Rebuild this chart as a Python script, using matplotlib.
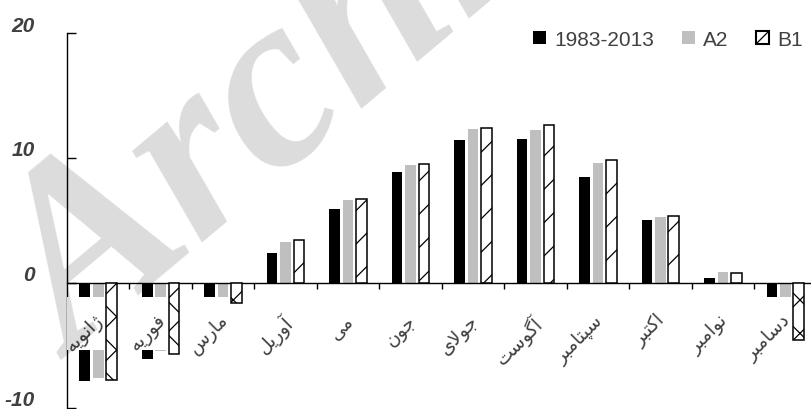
import numpy as np
import matplotlib
matplotlib.use('Agg')
import matplotlib.pyplot as plt
from matplotlib.patches import Patch
from matplotlib.transforms import offset_copy

months = ['ژانویه', 'فوریه', 'مارس', 'آوریل', 'می', 'جون',
          'جولای', 'آگوست', 'سپتامبر', 'اکتبر', 'نوامبر', 'دسامبر']
base = [-7.9, -6.1, -1.4, 2.4, 5.9, 8.9, 11.4, 11.5, 8.5, 5.0, 0.35, -1.6]
a2 = [-7.6, -5.5, -1.4, 3.3, 6.6, 9.4, 12.3, 12.2, 9.6, 5.3, 0.9, -1.5]
b1 = [-7.8, -5.7, -1.6, 3.4, 6.7, 9.5, 12.4, 12.6, 9.8, 5.35, 0.8, -4.6]
series_names = ['1983-2013', 'A2', 'B1']
yticks = [-10, 0, 10, 20]

# matplotlib has no Arabic shaping, so pick the contextual forms by hand
FORMS = {
    'ا': ('\uFE8D', '\uFE8E', None, None),
    'آ': ('\uFE81', '\uFE82', None, None),
    'ب': ('\uFE8F', '\uFE90', '\uFE91', '\uFE92'),
    'پ': ('\uFB56', '\uFB57', '\uFB58', '\uFB59'),
    'ت': ('\uFE95', '\uFE96', '\uFE97', '\uFE98'),
    'ج': ('\uFE9D', '\uFE9E', '\uFE9F', '\uFEA0'),
    'د': ('\uFEA9', '\uFEAA', None, None),
    'ر': ('\uFEAD', '\uFEAE', None, None),
    'ژ': ('\uFB8A', '\uFB8B', None, None),
    'س': ('\uFEB1', '\uFEB2', '\uFEB3', '\uFEB4'),
    'ف': ('\uFED1', '\uFED2', '\uFED3', '\uFED4'),
    'ک': ('\uFB8E', '\uFB8F', '\uFB90', '\uFB91'),
    'گ': ('\uFB92', '\uFB93', '\uFB94', '\uFB95'),
    'ل': ('\uFEDD', '\uFEDE', '\uFEDF', '\uFEE0'),
    'م': ('\uFEE1', '\uFEE2', '\uFEE3', '\uFEE4'),
    'ن': ('\uFEE5', '\uFEE6', '\uFEE7', '\uFEE8'),
    'ه': ('\uFEE9', '\uFEEA', '\uFEEB', '\uFEEC'),
    'و': ('\uFEED', '\uFEEE', None, None),
    'ی': ('\uFBFC', '\uFBFD', '\uFBFE', '\uFBFF'),
}
LAM_ALEF = {'ا': ('\uFEFB', '\uFEFC'), 'آ': ('\uFEF5', '\uFEF6')}


def shape(word):
    out = []
    i = 0
    prev_joins = False
    while i < len(word):
        ch = word[i]
        nxt = word[i + 1] if i + 1 < len(word) else None
        if ch == 'ل' and nxt in LAM_ALEF:
            out.append(LAM_ALEF[nxt][1 if prev_joins else 0])
            prev_joins = False
            i += 2
            continue
        iso, fin, ini, med = FORMS[ch]
        next_joins = nxt is not None and ini is not None
        if prev_joins and next_joins:
            out.append(med)
        elif prev_joins:
            out.append(fin)
        elif next_joins:
            out.append(ini)
        else:
            out.append(iso)
        prev_joins = next_joins
        i += 1
    return ''.join(reversed(out))


plt.rcParams['hatch.linewidth'] = 0.9

fig = plt.figure(figsize=(8.11, 4.10), dpi=100)
ax = fig.add_axes([67 / 811, 1.3 / 410, 749.5 / 811, 374.7 / 410])

x = np.arange(len(months))
w = 0.17
step = 0.215

ax.bar(x - step, base, w, color='black', zorder=1)
ax.bar(x, a2, w, color='#bfbfbf', zorder=1)
hatches = ['/' if v > 0 else 'x' for v in b1]
bars = ax.bar(x + step, b1, w, facecolor='white', edgecolor='black',
              linewidth=1.1, zorder=3)
for b, h in zip(bars, hatches):
    b.set_hatch(h)

# white strip behind the category labels
ax.axhspan(-5.35, -1.15, color='white', zorder=2.6, lw=0)

ax.set_xlim(-0.5, 11.5)
ax.set_ylim(-10, 20)
for s in ['top', 'right']:
    ax.spines[s].set_visible(False)
ax.spines['bottom'].set_position(('data', 0))
ax.spines['bottom'].set_linewidth(1.0)
ax.spines['left'].set_linewidth(1.0)

ax.set_xticks(np.arange(0.5, 11.6, 1))
ax.set_xticklabels([])
ax.tick_params(axis='x', direction='out', length=4.3, width=1.0)
ax.set_yticks(yticks)
ax.set_yticklabels([])
ax.tick_params(axis='y', direction='in', length=6.5, width=1.0)

ytrans = offset_copy(ax.get_yaxis_transform(), fig=fig, y=8, units='dots')
for v in yticks:
    ax.text(-0.043, v, str(v), transform=ytrans, ha='right', va='center',
            fontsize=15, family='Liberation Sans', weight='bold',
            style='italic', color='#404040', clip_on=False)

for i, m in enumerate(months):
    ax.text(i - 0.07, -2.2, shape(m), rotation=45, rotation_mode='anchor',
            ha='right', va='top', fontsize=13.5, family='DejaVu Sans',
            color='#404040', zorder=4)

handles = [Patch(facecolor='black'), Patch(facecolor='#bfbfbf'),
           Patch(facecolor='white', edgecolor='black', linewidth=1.5, hatch='/')]
fig.legend(handles, series_names, loc='center right',
           bbox_to_anchor=(0.99, 0.902), ncol=3, frameon=False,
           borderpad=0, borderaxespad=0, handlelength=0.62, handleheight=0.62,
           handletextpad=0.4, columnspacing=1.33,
           prop={'family': 'Liberation Sans', 'size': 15}, labelcolor='#404040')

fig.text(75 / 811, 1 - 360 / 410, 'Archive', rotation=40, rotation_mode='anchor',
         ha='left', va='baseline', fontsize=180, family='Liberation Serif',
         style='italic', weight='bold', color='black', alpha=0.14, zorder=5)

fig.savefig('out.png', dpi=100)
